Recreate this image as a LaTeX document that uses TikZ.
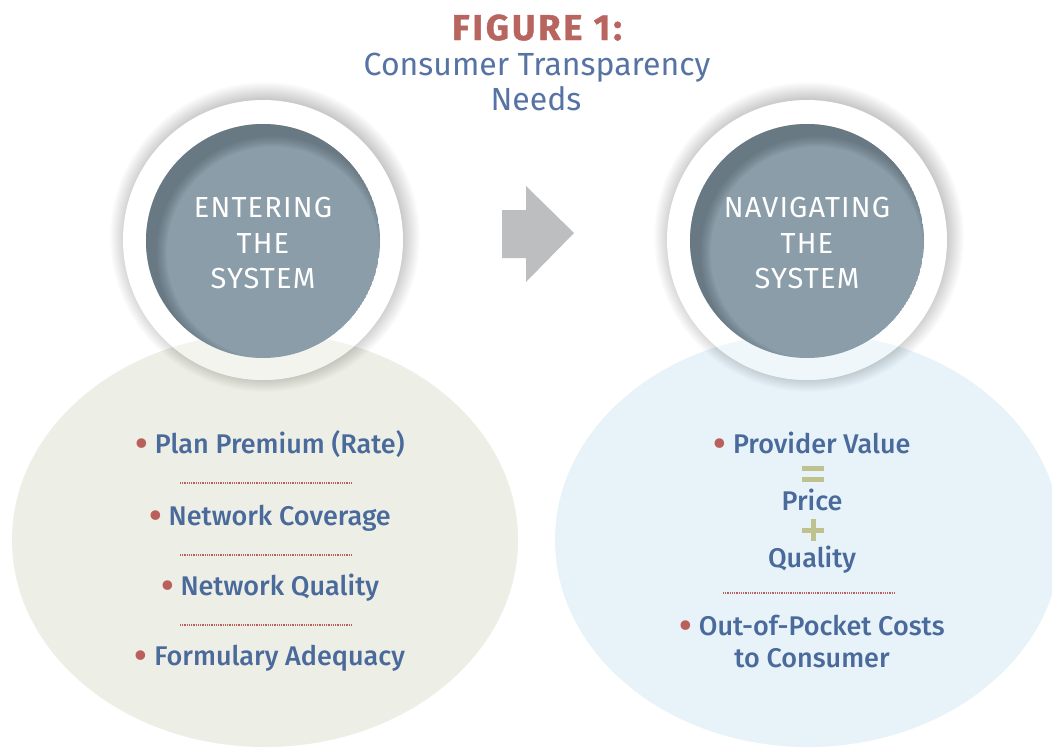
\documentclass[tikz,border=0pt]{standalone}
\usepackage{fontspec}
\setmainfont{Fira Sans}
\newfontfamily\medfont{Fira Sans Medium}
\definecolor{titlered}{HTML}{B8645F}
\definecolor{titleblue}{HTML}{5673A3}
\definecolor{txtblue}{HTML}{4A6A9B}
\definecolor{bulred}{HTML}{BA605C}
\definecolor{plusgreen}{HTML}{BFC28E}
\definecolor{beige}{HTML}{EDEEE5}
\definecolor{paleblue}{HTML}{E7F3F8}
\definecolor{slate}{HTML}{8A9DA8}
\definecolor{slatedark}{HTML}{44525C}
\definecolor{arrowgray}{HTML}{BDBEC0}
\newcommand\bul{{\color{bulred}\raisebox{-0.22ex}{\scalebox{1.4}{\textbullet}}}\hspace{0.25em}}
\tikzset{
  itemtext/.style={anchor=base, inner sep=0pt, text=txtblue, font=\medfont\fontsize{27}{27}\selectfont},
  circtext/.style={anchor=base, inner sep=0pt, text=white, font=\addfontfeatures{LetterSpace=4}\fontsize{29}{29}\selectfont},
  sepline/.style={draw=bulred, line width=1.1pt, dash pattern=on 0.9pt off 0.9pt},
  greenbar/.style={fill=plusgreen}
}
\begin{document}
\begin{tikzpicture}[x=1pt,y=-1pt]
\useasboundingbox (0,0) rectangle (1052,747);
\fill[white] (0,0) rectangle (1052,747);
% ellipses
\fill[beige] (265,540) ellipse [x radius=253, y radius=207];
\fill[paleblue] (808,540) ellipse [x radius=253, y radius=207];
% left circle
\foreach \k in {1,...,18}{
  \fill[black, opacity=0.011] (265,237) circle ({137+\k});
}
\fill[white] (263,240) circle (140);
\begin{scope}
  \clip (263,240) circle (140);
  \fill[beige, opacity=0.6] (265,540) ellipse [x radius=253, y radius=207];
\end{scope}
\begin{scope}
  \clip (263,241) circle (117);
  \fill[slate] (263,241) circle (117);
  \foreach \k in {0,...,7}{
    \fill[slatedark, opacity=0.07, even odd rule] (263,241) circle (118) (273,253) circle ({117-1.5*\k});
  }
\end{scope}
% right circle
\foreach \k in {1,...,18}{
  \fill[black, opacity=0.011] (809,237) circle ({137+\k});
}
\fill[white] (807,240) circle (140);
\begin{scope}
  \clip (807,240) circle (140);
  \fill[paleblue, opacity=0.6] (808,540) ellipse [x radius=253, y radius=207];
\end{scope}
\begin{scope}
  \clip (807,241) circle (117);
  \fill[slate] (807,241) circle (117);
  \foreach \k in {0,...,7}{
    \fill[slatedark, opacity=0.07, even odd rule] (807,241) circle (118) (817,253) circle ({117-1.5*\k});
  }
\end{scope}
% arrow
\fill[arrowgray] (502,210) -- (526,210) -- (526,186) -- (574,233) -- (526,282) -- (526,258) -- (502,258) -- cycle;
% title
\node[anchor=base, inner sep=0pt, text=titlered, font=\bfseries\addfontfeatures{LetterSpace=8,FakeBold=1.2}\fontsize{36}{36}\selectfont] (fig) at (537,40) {FIGURE 1:};
\node[anchor=base, inner sep=0pt, text=titleblue, font=\fontsize{32}{32}\selectfont] (sub1) at (537,75) {Consumer Transparency};
\node[anchor=base, inner sep=0pt, text=titleblue, font=\fontsize{32}{32}\selectfont] (sub2) at (536,110) {Needs};
% circle texts
\node[circtext] (e1) at (263,217) {ENTERING};
\node[circtext] (e2) at (263,253) {THE};
\node[circtext] (e3) at (263,288) {SYSTEM};
\node[circtext] (n1) at (807,217) {NAVIGATING};
\node[circtext] (n2) at (807,253) {THE};
\node[circtext] (n3) at (807,288) {SYSTEM};
% left items
\node[itemtext] (l1) at (270,453) {\bul Plan Premium (Rate)};
\node[itemtext] (l2) at (270,525) {\bul Network Coverage};
\node[itemtext] (l3) at (270,595) {\bul Network Quality};
\node[itemtext] (l4) at (270,665) {\bul Formulary Adequacy};
\draw[sepline] (180,483) -- (352,483);
\draw[sepline] (180,555) -- (352,555);
\draw[sepline] (180,625) -- (352,625);
% right items
\node[itemtext] (r1) at (812,453) {\bul Provider Value};
\fill[greenbar] (802,466) rectangle (824,471);
\fill[greenbar] (802,477) rectangle (824,482);
\node[itemtext] (r2) at (812,510) {Price};
\fill[greenbar] (802,527.5) rectangle (824,532.5);
\fill[greenbar] (810.5,519) rectangle (815.5,541);
\node[itemtext] (r3) at (812,567) {Quality};
\draw[sepline] (723,593) -- (895,593);
\node[itemtext] (r4) at (812,635) {\bul Out-of-Pocket Costs};
\node[itemtext] (r5) at (812,667) {to Consumer};
\end{tikzpicture}
\end{document}
